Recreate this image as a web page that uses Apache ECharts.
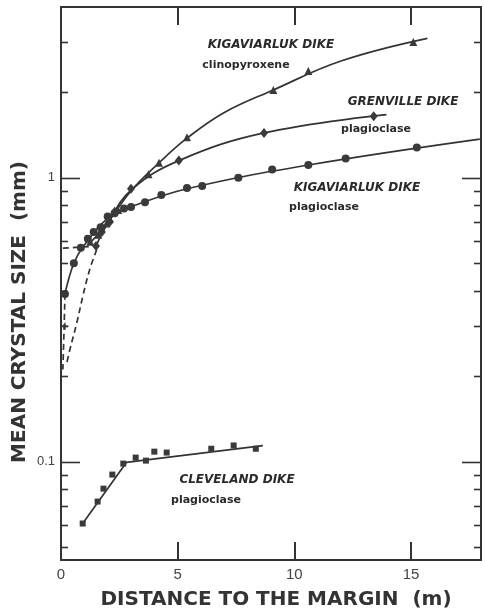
<!DOCTYPE html>
<html>
<head>
<meta charset="utf-8">
<script src="https://cdn.jsdelivr.net/npm/echarts@6/dist/echarts.min.js"></script>
<style>
  html, body { margin: 0; padding: 0; background: #fff; }
  #chart { width: 484px; height: 610px; }
</style>
</head>
<body>
<div id="chart"></div>
<script>
// Mean crystal size (mm) against distance to the dike margin (m)

// Kigaviarluk dike, clinopyroxene (triangles)
const cpxPoints = [[1.25,0.595],[1.6,0.63],[1.95,0.69],[2.45,0.77],[3.75,1.03],[4.2,1.13],[5.4,1.39],[9.1,2.04],[10.6,2.38],[15.1,3.01]];
const cpxCurve = [[1.25,0.59],[2.0,0.695],[3.0,0.9],[4.2,1.13],[5.4,1.38],[7.0,1.70],[9.1,2.04],[12.0,2.58],[15.7,3.1]];
const cpxExtrapolated = [[1.53,0.558],[1.23,0.475],[0.93,0.381],[0.68,0.309],[0.38,0.248],[0.25,0.223]];

// Grenville dike, plagioclase (diamonds)
const grenPoints = [[1.5,0.575],[1.75,0.645],[2.1,0.70],[2.3,0.76],[3.0,0.915],[5.05,1.15],[8.7,1.44],[13.4,1.65]];
const grenCurve = [[1.5,0.575],[2.0,0.69],[3.0,0.905],[5.05,1.15],[8.7,1.44],[13.95,1.67]];
const grenExtrapolated = [[0.08,0.565],[1.55,0.575]];

// Kigaviarluk dike, plagioclase (circles)
const kplPoints = [[0.17,0.39],[0.55,0.50],[0.85,0.567],[1.15,0.61],[1.4,0.645],[1.7,0.67],[2.0,0.73],[2.3,0.75],[2.7,0.78],[3.0,0.79],[3.6,0.82],[4.3,0.87],[5.4,0.92],[6.05,0.935],[7.6,1.0],[9.05,1.07],[10.6,1.11],[12.2,1.17],[15.25,1.28]];
const kplCurve = [[0.17,0.39],[0.55,0.50],[1.0,0.58],[2.0,0.72],[3.0,0.79],[5.4,0.915],[10.6,1.11],[17.95,1.37]];
const kplExtrapolated = [[0.17,0.39],[0.13,0.291],[0.08,0.211]];
const kplMarginPoint = [[0.17,0.30]];

// Cleveland dike, plagioclase (squares)
const clevPoints = [[0.93,0.0605],[1.57,0.0723],[1.82,0.0803],[2.2,0.090],[2.67,0.0984],[3.2,0.1033],[3.64,0.1008],[4.0,0.1084],[4.53,0.1076],[6.44,0.111],[7.4,0.114],[8.35,0.111]];
const clevFit = [[0.93,0.0605],[2.8,0.0993],[8.65,0.1138]];

// Axis ticks
const xTickStep = 5;
const yMajorTicks = [0.1, 1];
const yMinorTicks = [0.05,0.06,0.07,0.08,0.09,0.2,0.3,0.4,0.5,0.6,0.7,0.8,0.9,2,3];
const yLabels = { '0.1': '0.1', '1': '1' };

const INK = '#333';
const MARK = '#3a3a3a';

function tickSeries(values, len) {
  return {
    type: 'custom',
    coordinateSystem: 'cartesian2d',
    silent: true,
    clip: false,
    z: 5,
    data: values.map(v => [0, v]),
    renderItem: function (params, api) {
      const p = api.coord([0, api.value(1)]);
      const cs = params.coordSys;
      const y = Math.round(p[1]) + 0.5;
      return {
        type: 'group',
        children: [
          { type: 'line', shape: { x1: cs.x, y1: y, x2: cs.x + len, y2: y }, style: { stroke: INK, lineWidth: 1.6 } },
          { type: 'line', shape: { x1: cs.x + cs.width, y1: y, x2: cs.x + cs.width - len, y2: y }, style: { stroke: INK, lineWidth: 1.6 } }
        ]
      };
    }
  };
}

function curve(data, dashed, smooth) {
  return {
    type: 'line',
    data: data,
    showSymbol: false,
    symbol: 'none',
    smooth: smooth,
    silent: true,
    lineStyle: { color: INK, width: 1.7, type: dashed ? [6, 4] : 'solid' },
    z: 3
  };
}

function marks(data, symbol, size) {
  return {
    type: 'scatter',
    data: data,
    symbol: symbol,
    symbolSize: size,
    itemStyle: { color: MARK, opacity: 1 },
    silent: true,
    z: 4
  };
}

const capsFont = { fontFamily: 'DejaVu Sans', fontWeight: 'bold', fontStyle: 'italic', fontSize: 12, fill: '#2a2a2a' };
const lowFont = { fontFamily: 'DejaVu Sans', fontWeight: 'bold', fontSize: 11, fill: '#2a2a2a' };
function note(text, x, y, font) {
  return { type: 'text', x: x, y: y, silent: true, style: Object.assign({ text: text, textAlign: 'center', textVerticalAlign: 'middle' }, font) };
}

const xAxisBase = {
  type: 'value', min: 0, max: 18, interval: xTickStep,
  axisLine: { onZero: false, lineStyle: { color: INK, width: 2 } },
  axisTick: { inside: true, length: 18, lineStyle: { color: INK, width: 2 } },
  splitLine: { show: false }
};
const yAxisBase = {
  type: 'log', logBase: 10, min: 0.045, max: 4,
  axisLine: { onZero: false, lineStyle: { color: INK, width: 2 } },
  axisTick: { show: false },
  splitLine: { show: false },
  minorTick: { show: false }
};

const chart = echarts.init(document.getElementById('chart'), null, { renderer: 'canvas' });
chart.setOption({
  backgroundColor: '#fff',
  animation: false,
  grid: { left: 61, top: 7, width: 425, height: 553, containLabel: false },
  xAxis: [
    Object.assign({}, xAxisBase, {
      position: 'bottom',
      axisLabel: {
        color: '#444', fontSize: 15, fontFamily: 'Liberation Sans', margin: 7,
        formatter: v => (v % xTickStep === 0 && v <= 15) ? String(v) : ''
      }
    }),
    Object.assign({}, xAxisBase, { position: 'top', axisLabel: { show: false } })
  ],
  yAxis: [
    Object.assign({}, yAxisBase, {
      position: 'left',
      axisLabel: {
        color: '#444', fontSize: 13, fontFamily: 'Liberation Sans', margin: 6,
        formatter: v => {
          const k = String(Math.round(v * 1e6) / 1e6);
          return yLabels[k] || '';
        }
      }
    }),
    Object.assign({}, yAxisBase, { position: 'right', axisLabel: { show: false } })
  ],
  graphic: [
    note('KIGAVIARLUK DIKE', 271, 45, capsFont),
    note('clinopyroxene', 246, 65, lowFont),
    note('GRENVILLE DIKE', 403, 102, capsFont),
    note('plagioclase', 376, 129, lowFont),
    note('KIGAVIARLUK DIKE', 357, 188, capsFont),
    note('plagioclase', 324, 207, lowFont),
    note('CLEVELAND DIKE', 237, 480, capsFont),
    note('plagioclase', 206, 500, lowFont),
    {
      type: 'text', x: 276, y: 600, silent: true,
      style: { text: 'DISTANCE TO THE MARGIN  (m)', textAlign: 'center', textVerticalAlign: 'middle',
               fontFamily: 'DejaVu Sans', fontWeight: 'bold', fontSize: 20, fill: '#333' }
    },
    {
      type: 'text', x: 20, y: 312, rotation: Math.PI / 2, silent: true,
      style: { text: 'MEAN CRYSTAL SIZE  (mm)', textAlign: 'center', textVerticalAlign: 'middle',
               fontFamily: 'DejaVu Sans', fontWeight: 'bold', fontSize: 20, fill: '#333' }
    }
  ],
  series: [
    tickSeries(yMinorTicks, 7),
    tickSeries(yMajorTicks, 19),
    curve(cpxCurve, false, 0.4),
    curve(cpxExtrapolated, true, 0.4),
    curve(grenCurve, false, 0.4),
    curve(grenExtrapolated, true, false),
    curve(kplCurve, false, 0.4),
    curve(kplExtrapolated, true, 0.4),
    curve(clevFit, false, false),
    marks(cpxPoints, 'triangle', 8),
    marks(grenPoints, 'diamond', [8, 10]),
    marks(kplPoints, 'circle', 8),
    marks(kplMarginPoint, 'path://M4,0H6V4H10V6H6V10H4V6H0V4H4Z', 7),
    marks(clevPoints, 'rect', 6)
  ]
});
</script>
</body>
</html>
